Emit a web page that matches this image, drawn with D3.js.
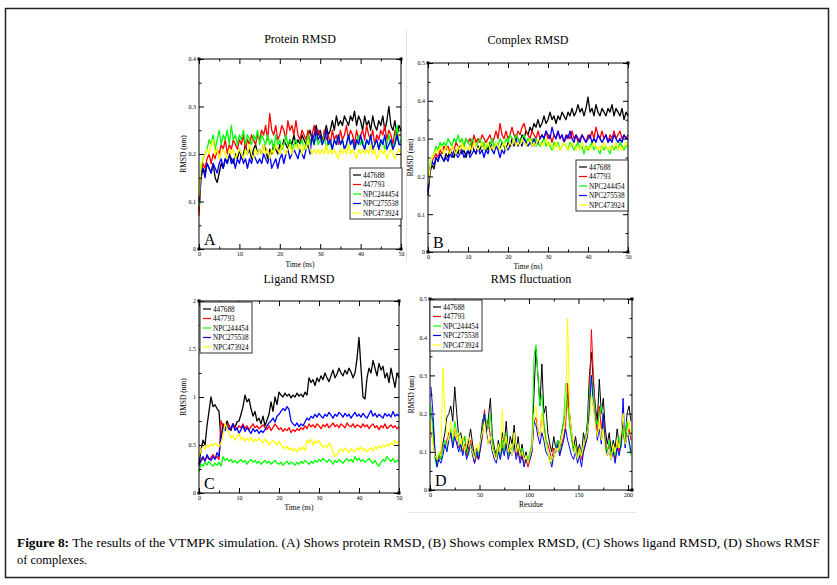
<!DOCTYPE html>
<html>
<head>
<meta charset="utf-8">
<script src="https://cdn.jsdelivr.net/npm/d3@7"></script>
<style>
  body { margin: 0; background: #fff; }
  svg { display: block; }
  text { font-family: "Liberation Serif", "DejaVu Serif", serif; }
</style>
</head>
<body>
<div id="chart"></div>
<script>
const width = 837, height = 585;

const seriesNames = ["447688", "447793", "NPC244454", "NPC275538", "NPC473924"];
const seriesColors = ["#000000", "#ff0000", "#00ff00", "#0000ff", "#ffff00"];
const timeStep = 0.5;            // ns between samples
const residueStart = 1, residueStep = 2;

// (A) protein RMSD, nm, t = 0..50 ns
const proteinRMSD = [
  [0.08,0.15,0.17,0.16,0.18,0.17,0.16,0.18,0.15,0.14,0.16,0.18,0.17,0.19,0.18,0.2,0.19,0.18,0.2,0.19,
   0.21,0.19,0.2,0.22,0.2,0.21,0.19,0.21,0.22,0.2,0.21,0.2,0.22,0.21,0.19,0.21,0.2,0.22,0.21,0.2,
   0.22,0.21,0.23,0.22,0.21,0.23,0.22,0.24,0.22,0.23,0.22,0.24,0.23,0.22,0.24,0.25,0.23,0.24,0.26,0.24,
   0.25,0.23,0.24,0.26,0.24,0.25,0.27,0.25,0.28,0.26,0.27,0.26,0.28,0.27,0.26,0.28,0.27,0.29,0.26,0.28,
   0.27,0.25,0.28,0.26,0.27,0.25,0.28,0.26,0.25,0.27,0.26,0.28,0.25,0.27,0.3,0.26,0.25,0.27,0.24,0.26,0.25],
  [0.07,0.16,0.18,0.17,0.19,0.2,0.18,0.2,0.19,0.21,0.2,0.22,0.21,0.23,0.2,0.22,0.21,0.23,0.22,0.21,
   0.23,0.22,0.24,0.21,0.23,0.22,0.24,0.23,0.22,0.24,0.23,0.25,0.24,0.26,0.23,0.285,0.25,0.24,0.26,0.23,
   0.24,0.26,0.25,0.23,0.27,0.25,0.26,0.24,0.27,0.24,0.23,0.25,0.24,0.23,0.25,0.22,0.24,0.26,0.23,0.25,
   0.24,0.22,0.25,0.23,0.24,0.22,0.25,0.23,0.24,0.22,0.25,0.23,0.24,0.26,0.23,0.25,0.24,0.22,0.25,0.23,
   0.24,0.25,0.23,0.26,0.24,0.23,0.25,0.22,0.24,0.23,0.25,0.24,0.26,0.23,0.25,0.24,0.22,0.25,0.23,0.24,0.24],
  [0.09,0.17,0.19,0.2,0.21,0.23,0.22,0.24,0.21,0.23,0.25,0.22,0.24,0.23,0.25,0.22,0.26,0.23,0.24,0.22,
   0.24,0.23,0.25,0.22,0.24,0.23,0.22,0.24,0.23,0.25,0.22,0.24,0.23,0.22,0.24,0.22,0.23,0.21,0.24,0.22,
   0.23,0.21,0.22,0.24,0.22,0.23,0.21,0.22,0.23,0.21,0.22,0.23,0.21,0.22,0.24,0.22,0.23,0.22,0.24,0.22,
   0.23,0.22,0.24,0.21,0.23,0.22,0.21,0.23,0.22,0.24,0.22,0.23,0.21,0.22,0.24,0.22,0.23,0.21,0.22,0.24,
   0.22,0.23,0.21,0.23,0.22,0.24,0.21,0.22,0.23,0.21,0.22,0.23,0.21,0.22,0.24,0.22,0.21,0.23,0.26,0.22,0.23],
  [0.1,0.16,0.17,0.15,0.18,0.17,0.16,0.18,0.17,0.16,0.18,0.19,0.17,0.19,0.18,0.2,0.18,0.19,0.17,0.19,
   0.18,0.2,0.18,0.19,0.17,0.19,0.18,0.2,0.19,0.18,0.19,0.18,0.2,0.19,0.18,0.2,0.17,0.18,0.19,0.17,
   0.19,0.2,0.18,0.2,0.21,0.19,0.2,0.21,0.2,0.19,0.21,0.2,0.19,0.21,0.22,0.2,0.24,0.22,0.25,0.23,
   0.24,0.22,0.23,0.25,0.22,0.23,0.21,0.23,0.22,0.24,0.22,0.23,0.21,0.22,0.24,0.22,0.23,0.21,0.23,0.22,
   0.24,0.22,0.21,0.23,0.22,0.24,0.21,0.22,0.23,0.21,0.23,0.22,0.24,0.21,0.22,0.23,0.21,0.22,0.24,0.22,0.22],
  [0.11,0.18,0.19,0.2,0.21,0.2,0.22,0.23,0.2,0.21,0.19,0.2,0.21,0.2,0.19,0.21,0.2,0.21,0.19,0.2,
   0.21,0.2,0.19,0.21,0.2,0.22,0.2,0.19,0.21,0.2,0.21,0.2,0.22,0.2,0.21,0.19,0.21,0.2,0.22,0.21,
   0.2,0.22,0.21,0.2,0.21,0.22,0.2,0.21,0.22,0.21,0.22,0.2,0.22,0.21,0.23,0.21,0.2,0.21,0.2,0.21,
   0.2,0.21,0.2,0.22,0.2,0.21,0.2,0.21,0.2,0.19,0.21,0.2,0.21,0.2,0.22,0.2,0.21,0.2,0.19,0.21,
   0.2,0.21,0.2,0.21,0.2,0.22,0.2,0.21,0.19,0.2,0.21,0.2,0.21,0.19,0.2,0.21,0.2,0.19,0.2,0.21,0.2]
];

// (B) complex RMSD, nm
const complexRMSD = [
  [0.15,0.21,0.23,0.22,0.25,0.24,0.26,0.25,0.24,0.26,0.25,0.27,0.26,0.25,0.27,0.26,0.28,0.26,0.27,0.25,
   0.27,0.26,0.28,0.27,0.26,0.28,0.27,0.29,0.27,0.28,0.27,0.29,0.28,0.27,0.29,0.28,0.27,0.29,0.28,0.27,
   0.29,0.28,0.3,0.29,0.31,0.3,0.29,0.31,0.3,0.32,0.31,0.33,0.32,0.34,0.33,0.35,0.33,0.34,0.36,0.34,
   0.35,0.37,0.35,0.36,0.34,0.36,0.35,0.37,0.36,0.35,0.37,0.36,0.38,0.36,0.37,0.39,0.37,0.38,0.36,0.38,
   0.41,0.37,0.38,0.36,0.39,0.37,0.36,0.38,0.37,0.36,0.38,0.37,0.39,0.36,0.38,0.37,0.36,0.38,0.35,0.37,0.36],
  [0.16,0.22,0.24,0.25,0.26,0.25,0.27,0.26,0.28,0.27,0.28,0.26,0.28,0.27,0.29,0.28,0.27,0.29,0.28,0.3,
   0.29,0.3,0.28,0.31,0.29,0.3,0.29,0.31,0.3,0.29,0.3,0.31,0.29,0.3,0.32,0.3,0.34,0.31,0.3,0.32,
   0.3,0.31,0.33,0.31,0.3,0.32,0.31,0.33,0.34,0.32,0.31,0.3,0.32,0.31,0.3,0.32,0.3,0.31,0.3,0.32,
   0.3,0.31,0.29,0.31,0.3,0.32,0.3,0.31,0.29,0.3,0.31,0.3,0.32,0.3,0.31,0.29,0.3,0.31,0.3,0.29,
   0.31,0.3,0.32,0.3,0.33,0.31,0.3,0.32,0.3,0.31,0.29,0.31,0.3,0.32,0.3,0.31,0.32,0.3,0.31,0.3,0.31],
  [0.17,0.23,0.25,0.26,0.28,0.27,0.29,0.28,0.29,0.28,0.3,0.29,0.28,0.3,0.29,0.31,0.29,0.3,0.28,0.3,
   0.29,0.28,0.3,0.29,0.28,0.29,0.3,0.28,0.29,0.27,0.29,0.28,0.3,0.28,0.29,0.28,0.3,0.29,0.28,0.3,
   0.29,0.31,0.3,0.29,0.31,0.3,0.29,0.3,0.31,0.29,0.3,0.29,0.3,0.28,0.3,0.29,0.28,0.29,0.3,0.28,
   0.29,0.28,0.27,0.29,0.28,0.29,0.27,0.28,0.29,0.28,0.27,0.29,0.28,0.27,0.28,0.29,0.27,0.28,0.26,0.28,
   0.27,0.28,0.29,0.27,0.28,0.27,0.26,0.28,0.27,0.28,0.27,0.26,0.28,0.27,0.28,0.27,0.29,0.28,0.27,0.28,0.28],
  [0.16,0.22,0.24,0.23,0.25,0.24,0.26,0.25,0.24,0.25,0.24,0.26,0.25,0.27,0.26,0.25,0.26,0.27,0.25,0.26,
   0.27,0.25,0.26,0.27,0.26,0.28,0.26,0.27,0.25,0.27,0.26,0.28,0.27,0.26,0.28,0.27,0.25,0.27,0.26,0.28,
   0.27,0.28,0.29,0.28,0.3,0.28,0.29,0.28,0.3,0.29,0.28,0.29,0.28,0.3,0.28,0.29,0.3,0.31,0.3,0.32,
   0.31,0.3,0.33,0.31,0.3,0.32,0.3,0.31,0.29,0.31,0.3,0.32,0.3,0.29,0.31,0.3,0.29,0.31,0.3,0.29,
   0.3,0.31,0.29,0.3,0.29,0.31,0.3,0.29,0.3,0.31,0.29,0.3,0.29,0.31,0.3,0.29,0.3,0.29,0.31,0.3,0.3],
  [0.18,0.22,0.25,0.26,0.27,0.26,0.28,0.27,0.26,0.28,0.27,0.26,0.28,0.27,0.26,0.28,0.27,0.29,0.27,0.28,
   0.27,0.28,0.27,0.29,0.28,0.27,0.28,0.29,0.27,0.28,0.29,0.27,0.28,0.27,0.29,0.28,0.27,0.28,0.29,0.27,
   0.28,0.29,0.28,0.3,0.28,0.29,0.28,0.3,0.29,0.28,0.29,0.3,0.28,0.29,0.28,0.3,0.29,0.28,0.29,0.3,
   0.28,0.29,0.28,0.27,0.29,0.28,0.27,0.28,0.29,0.28,0.27,0.28,0.29,0.28,0.27,0.28,0.27,0.29,0.28,0.27,
   0.28,0.27,0.28,0.29,0.28,0.27,0.28,0.27,0.29,0.28,0.27,0.28,0.27,0.28,0.29,0.27,0.28,0.27,0.28,0.29,0.28]
];

// (C) ligand RMSD, nm
const ligandRMSD = [
  [0.3,0.45,0.55,0.5,0.7,0.85,1.0,0.9,0.92,0.88,0.85,0.55,0.72,0.68,0.75,0.7,0.65,0.72,0.68,0.74,
   0.75,0.82,0.9,1.02,0.95,0.98,0.88,0.8,0.85,0.75,0.78,0.72,0.8,0.7,0.76,0.82,0.95,0.85,1.0,0.92,
   1.05,1.02,1.0,1.04,1.01,1.03,0.99,1.02,1.0,1.04,1.01,1.03,1.0,1.05,1.02,1.2,1.15,1.18,1.12,1.2,
   1.16,1.22,1.18,1.25,1.2,1.16,1.22,1.28,1.2,1.24,1.3,1.25,1.22,1.28,1.24,1.3,1.26,1.2,1.25,1.4,
   1.62,1.3,1.0,0.98,1.2,1.3,1.25,1.38,1.3,1.22,1.35,1.28,1.32,1.2,1.25,1.15,1.3,1.2,1.1,1.25,1.2],
  [0.3,0.33,0.36,0.34,0.38,0.35,0.37,0.4,0.36,0.38,0.35,0.75,0.7,0.68,0.72,0.7,0.67,0.72,0.69,0.66,
   0.7,0.68,0.72,0.67,0.7,0.66,0.69,0.72,0.68,0.7,0.67,0.69,0.71,0.68,0.66,0.7,0.65,0.68,0.72,0.69,
   0.66,0.68,0.64,0.67,0.65,0.68,0.63,0.66,0.64,0.67,0.65,0.68,0.66,0.7,0.67,0.72,0.69,0.71,0.68,0.72,
   0.7,0.67,0.71,0.69,0.72,0.68,0.7,0.73,0.69,0.71,0.68,0.72,0.7,0.68,0.73,0.7,0.69,0.72,0.68,0.71,
   0.7,0.68,0.72,0.69,0.71,0.67,0.7,0.72,0.68,0.7,0.66,0.7,0.68,0.72,0.67,0.69,0.71,0.68,0.7,0.67,0.69],
  [0.22,0.3,0.28,0.32,0.29,0.33,0.3,0.28,0.31,0.29,0.32,0.28,0.38,0.34,0.36,0.33,0.35,0.32,0.34,0.31,
   0.33,0.35,0.32,0.34,0.3,0.33,0.35,0.32,0.34,0.31,0.33,0.3,0.32,0.34,0.31,0.33,0.3,0.32,0.34,0.31,
   0.3,0.32,0.29,0.31,0.33,0.3,0.32,0.31,0.29,0.32,0.3,0.33,0.31,0.34,0.32,0.3,0.33,0.31,0.34,0.32,
   0.35,0.33,0.36,0.34,0.32,0.35,0.33,0.3,0.34,0.32,0.35,0.33,0.31,0.34,0.36,0.33,0.35,0.32,0.38,0.34,
   0.36,0.33,0.35,0.32,0.34,0.36,0.33,0.31,0.34,0.3,0.28,0.32,0.35,0.33,0.38,0.35,0.33,0.36,0.32,0.34,0.33],
  [0.28,0.35,0.38,0.33,0.4,0.36,0.34,0.38,0.35,0.42,0.38,0.6,0.68,0.65,0.7,0.66,0.68,0.72,0.65,0.68,
   0.62,0.66,0.7,0.64,0.68,0.65,0.62,0.67,0.64,0.66,0.62,0.65,0.63,0.66,0.7,0.73,0.75,0.78,0.74,0.8,
   0.82,0.85,0.88,0.86,0.9,0.87,0.75,0.72,0.7,0.73,0.69,0.72,0.7,0.74,0.78,0.76,0.8,0.78,0.82,0.79,
   0.83,0.8,0.78,0.82,0.8,0.84,0.81,0.78,0.82,0.8,0.84,0.82,0.79,0.83,0.8,0.82,0.78,0.81,0.84,0.8,
   0.82,0.79,0.83,0.8,0.78,0.82,0.86,0.8,0.83,0.79,0.82,0.8,0.78,0.83,0.8,0.82,0.79,0.85,0.8,0.82,0.8],
  [0.38,0.45,0.48,0.46,0.5,0.48,0.51,0.49,0.52,0.5,0.48,0.52,0.6,0.72,0.68,0.62,0.58,0.6,0.55,0.58,
   0.62,0.56,0.58,0.54,0.57,0.55,0.58,0.53,0.56,0.54,0.57,0.55,0.52,0.56,0.54,0.5,0.53,0.55,0.52,0.5,
   0.54,0.5,0.48,0.46,0.49,0.45,0.47,0.44,0.46,0.43,0.47,0.45,0.48,0.44,0.55,0.52,0.56,0.5,0.54,0.52,
   0.55,0.5,0.48,0.5,0.47,0.52,0.5,0.42,0.38,0.4,0.44,0.46,0.43,0.47,0.45,0.42,0.46,0.44,0.43,0.47,
   0.45,0.48,0.44,0.46,0.43,0.45,0.47,0.44,0.48,0.46,0.49,0.47,0.5,0.48,0.51,0.49,0.52,0.5,0.55,0.52,0.54]
];

// (D) RMS fluctuation per residue, nm (residues 1, 3, 5, ... 203)
const residueRMSF = [
  [0.2,0.18,0.1,0.07,0.09,0.08,0.12,0.15,0.19,0.2,0.22,0.18,0.27,0.2,0.14,0.15,0.12,0.14,0.1,0.13,
   0.16,0.12,0.09,0.11,0.08,0.13,0.18,0.2,0.15,0.19,0.24,0.14,0.11,0.09,0.13,0.1,0.15,0.12,0.18,0.1,
   0.14,0.12,0.17,0.1,0.14,0.09,0.12,0.08,0.1,0.07,0.09,0.12,0.25,0.37,0.3,0.22,0.33,0.2,0.22,0.15,
   0.12,0.1,0.14,0.11,0.13,0.12,0.15,0.18,0.2,0.25,0.2,0.15,0.11,0.14,0.1,0.12,0.09,0.15,0.12,0.18,
   0.3,0.36,0.28,0.22,0.18,0.29,0.2,0.24,0.16,0.12,0.15,0.1,0.13,0.11,0.16,0.12,0.14,0.18,0.13,0.2,
   0.22,0.18],
  [0.15,0.13,0.09,0.07,0.08,0.1,0.12,0.11,0.13,0.15,0.14,0.12,0.16,0.13,0.11,0.12,0.1,0.12,0.09,0.11,
   0.13,0.1,0.07,0.09,0.08,0.11,0.14,0.21,0.16,0.18,0.14,0.12,0.1,0.08,0.11,0.09,0.12,0.1,0.13,0.09,
   0.11,0.1,0.13,0.09,0.11,0.08,0.1,0.07,0.08,0.06,0.08,0.1,0.18,0.19,0.16,0.14,0.2,0.17,0.13,0.12,
   0.1,0.08,0.11,0.1,0.12,0.09,0.12,0.14,0.17,0.28,0.18,0.14,0.1,0.12,0.09,0.11,0.08,0.1,0.12,0.14,
   0.24,0.42,0.3,0.2,0.15,0.22,0.16,0.2,0.13,0.1,0.12,0.09,0.11,0.08,0.12,0.1,0.13,0.15,0.12,0.14,
   0.16,0.13],
  [0.22,0.15,0.08,0.06,0.1,0.08,0.11,0.13,0.1,0.14,0.16,0.12,0.18,0.15,0.13,0.1,0.12,0.14,0.11,0.09,
   0.12,0.1,0.08,0.1,0.09,0.12,0.16,0.2,0.18,0.16,0.2,0.13,0.1,0.09,0.12,0.08,0.13,0.1,0.15,0.09,
   0.12,0.1,0.14,0.1,0.12,0.09,0.11,0.08,0.09,0.08,0.1,0.12,0.35,0.38,0.3,0.22,0.25,0.18,0.14,0.1,
   0.08,0.07,0.09,0.11,0.13,0.1,0.15,0.18,0.28,0.22,0.17,0.13,0.1,0.12,0.08,0.1,0.09,0.11,0.14,0.16,
   0.25,0.3,0.26,0.19,0.17,0.2,0.22,0.18,0.12,0.1,0.13,0.08,0.11,0.09,0.12,0.14,0.11,0.16,0.13,0.18,
   0.12,0.09],
  [0.27,0.2,0.1,0.06,0.08,0.07,0.09,0.12,0.1,0.13,0.15,0.11,0.14,0.12,0.1,0.12,0.09,0.11,0.08,0.1,
   0.12,0.09,0.07,0.1,0.08,0.11,0.15,0.2,0.15,0.12,0.13,0.1,0.08,0.07,0.1,0.08,0.11,0.09,0.12,0.08,
   0.1,0.09,0.12,0.08,0.1,0.07,0.09,0.06,0.08,0.07,0.08,0.1,0.18,0.17,0.14,0.12,0.15,0.13,0.1,0.09,
   0.08,0.06,0.09,0.1,0.12,0.09,0.11,0.13,0.16,0.13,0.11,0.09,0.08,0.1,0.07,0.09,0.06,0.1,0.12,0.14,
   0.2,0.3,0.22,0.18,0.13,0.16,0.12,0.2,0.11,0.09,0.1,0.08,0.1,0.07,0.11,0.09,0.12,0.24,0.11,0.15,
   0.13,0.1],
  [0.18,0.12,0.09,0.08,0.1,0.09,0.32,0.2,0.15,0.13,0.18,0.14,0.16,0.13,0.15,0.12,0.14,0.1,0.12,0.14,
   0.11,0.1,0.08,0.12,0.1,0.13,0.15,0.18,0.14,0.12,0.14,0.11,0.09,0.08,0.12,0.1,0.21,0.12,0.14,0.1,
   0.12,0.09,0.15,0.1,0.12,0.09,0.1,0.08,0.09,0.07,0.09,0.11,0.2,0.22,0.16,0.14,0.2,0.15,0.12,0.1,
   0.07,0.09,0.08,0.11,0.1,0.12,0.14,0.16,0.2,0.45,0.2,0.15,0.12,0.1,0.08,0.11,0.09,0.12,0.13,0.15,
   0.18,0.25,0.22,0.17,0.14,0.18,0.13,0.16,0.1,0.09,0.1,0.08,0.12,0.1,0.13,0.11,0.15,0.2,0.12,0.14,
   0.18,0.15]
];

const panels = [
  { letter: "A", title: "Protein RMSD", data: proteinRMSD, xOf: i => i * timeStep, lw: 1.3,
    box: [199, 59, 401, 249], xDomain: [0, 50], xMajor: 10, yDomain: [0, 0.4], yMajor: 0.1,
    xLabel: "Time (ns)", titleY: 43, xLabelY: 267, yLabelX: 186, legend: [350, 168] },
  { letter: "B", title: "Complex RMSD", data: complexRMSD, xOf: i => i * timeStep, lw: 1.3,
    box: [428, 63, 628, 252], xDomain: [0, 50], xMajor: 10, yDomain: [0, 0.5], yMajor: 0.1,
    xLabel: "Time (ns)", titleY: 44, xLabelY: 269, yLabelX: 413, legend: [576, 160] },
  { letter: "C", title: "Ligand RMSD", data: ligandRMSD, xOf: i => i * timeStep, lw: 1.3,
    box: [199, 301, 399, 493], xDomain: [0, 50], xMajor: 10, yDomain: [0, 2], yMajor: 0.5,
    xLabel: "Time (ns)", titleY: 283, xLabelY: 510, yLabelX: 186, legend: [200, 302] },
  { letter: "D", title: "RMS fluctuation", data: residueRMSF, xOf: i => residueStart + i * residueStep, lw: 1,
    box: [430, 299, 632, 490], xDomain: [0, 204], xMajor: 50, yDomain: [0, 0.5], yMajor: 0.1,
    xLabel: "Residue", titleY: 283, xLabelY: 507, yLabelX: 414, legend: [430, 300] }
];

const svg = d3.select("#chart")
  .append("svg")
  .attr("width", width)
  .attr("height", height);

svg.append("rect").attr("width", width).attr("height", height).attr("fill", "#fff");

// figure frame and faint separators
svg.append("rect")
  .attr("x", 5.5).attr("y", 8.5).attr("width", 823).attr("height", 569)
  .attr("fill", "none").attr("stroke", "#222").attr("stroke-width", 1.5);
svg.append("line").attr("x1", 406.5).attr("x2", 406.5).attr("y1", 30).attr("y2", 262)
  .attr("stroke", "#e4e4e4");
svg.append("line").attr("x1", 407).attr("x2", 637).attr("y1", 512.5).attr("y2", 512.5)
  .attr("stroke", "#e8e8e8");

const fmt = v => d3.format("~g")(+v.toFixed(3));

panels.forEach(p => {
  const [x0, y0, x1, y1] = p.box;
  const x = d3.scaleLinear().domain(p.xDomain).range([x0, x1]);
  const y = d3.scaleLinear().domain(p.yDomain).range([y1, y0]);
  const g = svg.append("g");

  const xMaj = d3.range(p.xDomain[0], p.xDomain[1] + 1e-9, p.xMajor);
  const xMin = d3.range(p.xDomain[0] + p.xMajor / 2, p.xDomain[1], p.xMajor);
  const yMaj = d3.range(p.yDomain[0], p.yDomain[1] + 1e-9, p.yMajor);
  const yMin = d3.range(p.yDomain[0] + p.yMajor / 2, p.yDomain[1], p.yMajor);

  // series
  const line = d3.line().x((d, i) => x(p.xOf(i))).y(d => y(d));
  g.append("g")
    .selectAll("path")
    .data(p.data)
    .join("path")
    .attr("fill", "none")
    .attr("stroke", (d, i) => seriesColors[i])
    .attr("stroke-width", p.lw)
    .attr("stroke-linejoin", "round")
    .attr("d", line);

  // axes, xmgrace style: ticks inward on all four sides
  const axes = [
    [d3.axisBottom(x), y1, "x", true], [d3.axisTop(x), y0, "x", false],
    [d3.axisLeft(y), x0, "y", true], [d3.axisRight(y), x1, "y", false]
  ];
  axes.forEach(([ax, pos, dim, labelled]) => {
    const maj = dim === "x" ? xMaj : yMaj, mnr = dim === "x" ? xMin : yMin;
    const tr = dim === "x" ? `translate(0,${pos})` : `translate(${pos},0)`;
    const a = g.append("g").attr("transform", tr)
      .call(ax.tickValues(maj).tickSize(-5).tickPadding(3)
        .tickFormat(labelled ? fmt : ""));
    a.select(".domain").remove();
    a.selectAll("line").attr("stroke", "#000");
    a.selectAll("text").attr("font-size", 6).attr("fill", "#000")
      .attr("font-family", "'Liberation Serif', serif");
    const m = g.append("g").attr("transform", tr)
      .call(ax.tickValues(mnr).tickSize(-2.5).tickFormat(""));
    m.select(".domain").remove();
    m.selectAll("line").attr("stroke", "#000");
  });

  g.append("rect")
    .attr("x", x0).attr("y", y0).attr("width", x1 - x0).attr("height", y1 - y0)
    .attr("fill", "none").attr("stroke", "#000").attr("stroke-width", 1);
  [[x0, y0], [x1, y0], [x0, y1], [x1, y1]].forEach(([cx, cy]) =>
    g.append("rect").attr("x", cx - 1.5).attr("y", cy - 1.5)
      .attr("width", 3).attr("height", 3).attr("fill", "#000"));

  // texts
  g.append("text")
    .attr("x", (x0 + x1) / 2).attr("y", p.titleY)
    .attr("text-anchor", "middle").attr("font-size", 12).text(p.title);
  g.append("text")
    .attr("x", (x0 + x1) / 2).attr("y", p.xLabelY)
    .attr("text-anchor", "middle").attr("font-size", 7.5).text(p.xLabel);
  g.append("text")
    .attr("transform", `translate(${p.yLabelX},${(y0 + y1) / 2}) rotate(-90)`)
    .attr("text-anchor", "middle").attr("font-size", 7.5).text("RMSD (nm)");
  g.append("text")
    .attr("x", x0 + 5).attr("y", y1 - 4)
    .attr("font-family", "'DejaVu Sans', sans-serif")
    .attr("font-size", 16).text(p.letter);

  // legend
  const [lx, ly] = p.legend;
  const lg = g.append("g").attr("transform", `translate(${lx},${ly})`);
  lg.append("rect").attr("width", 52).attr("height", 51)
    .attr("fill", "#fff").attr("stroke", "#333").attr("stroke-width", 1);
  const rows = lg.selectAll("g.row").data(seriesNames).join("g")
    .attr("class", "row")
    .attr("transform", (d, i) => `translate(0,${7 + i * 9.5})`);
  rows.append("line").attr("x1", 3).attr("x2", 11)
    .attr("stroke", (d, i) => seriesColors[i]).attr("stroke-width", 1.2);
  rows.append("text").attr("x", 13).attr("y", 2.5)
    .attr("font-size", 7.2).text(d => d);
});

// caption
const cap = svg.append("text").attr("x", 17).attr("y", 547).attr("font-size", 12.5)
  .attr("font-family", "'DejaVu Serif', serif")
  .attr("textLength", 803).attr("lengthAdjust", "spacingAndGlyphs");
cap.append("tspan").attr("font-weight", "bold").text("Figure 8:");
cap.append("tspan").text(" The results of the VTMPK simulation. (A) Shows protein RMSD, (B) Shows complex RMSD, (C) Shows ligand RMSD, (D) Shows RMSF");
svg.append("text").attr("x", 17).attr("y", 564).attr("font-size", 12.5)
  .attr("font-family", "'DejaVu Serif', serif")
  .text("of complexes.");
</script>
</body>
</html>
